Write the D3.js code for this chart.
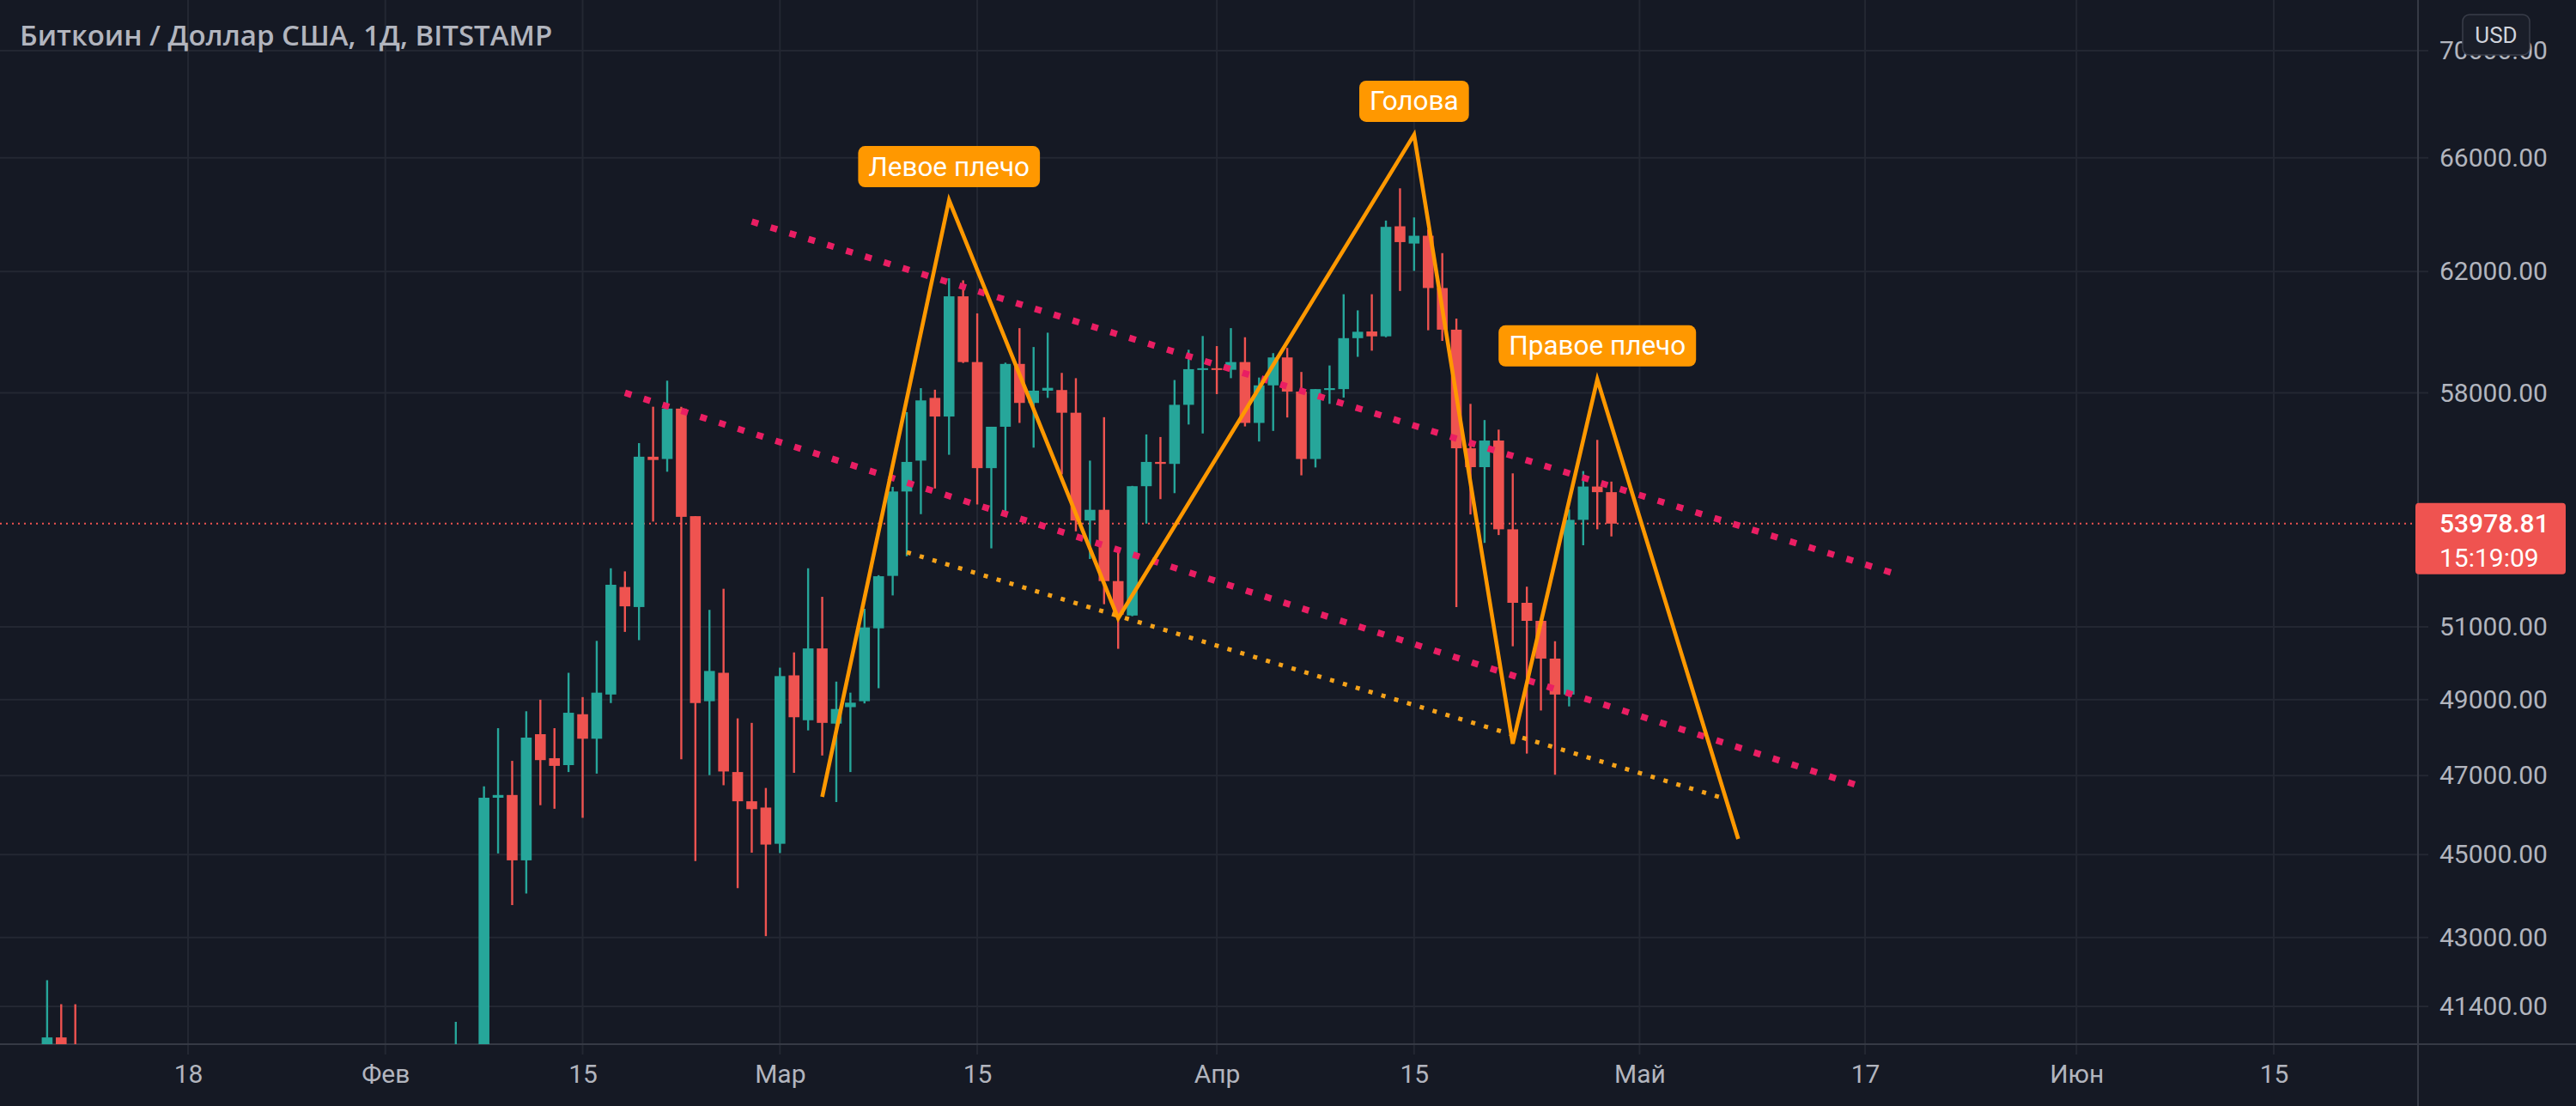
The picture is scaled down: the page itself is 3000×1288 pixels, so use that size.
<!DOCTYPE html>
<html><head><meta charset="utf-8">
<script src="https://cdn.jsdelivr.net/npm/d3@7"></script>
<style>
html,body{margin:0;padding:0;background:#151924;}
svg{display:block;}
</style></head><body>
<svg id="c" width="3000" height="1288"></svg>
<script>
// ---- candle data (BTC/USD daily, Bitstamp) ----
const dates = ["2021-01-08","2021-01-09","2021-01-10","2021-02-06","2021-02-08","2021-02-09","2021-02-10","2021-02-11","2021-02-12","2021-02-13","2021-02-14","2021-02-15","2021-02-16","2021-02-17","2021-02-18","2021-02-19","2021-02-20","2021-02-21","2021-02-22","2021-02-23","2021-02-24","2021-02-25","2021-02-26","2021-02-27","2021-02-28","2021-03-01","2021-03-02","2021-03-03","2021-03-04","2021-03-05","2021-03-06","2021-03-07","2021-03-08","2021-03-09","2021-03-10","2021-03-11","2021-03-12","2021-03-13","2021-03-14","2021-03-15","2021-03-16","2021-03-17","2021-03-18","2021-03-19","2021-03-20","2021-03-21","2021-03-22","2021-03-23","2021-03-24","2021-03-25","2021-03-26","2021-03-27","2021-03-28","2021-03-29","2021-03-30","2021-03-31","2021-04-01","2021-04-02","2021-04-03","2021-04-04","2021-04-05","2021-04-06","2021-04-07","2021-04-08","2021-04-09","2021-04-10","2021-04-11","2021-04-12","2021-04-13","2021-04-14","2021-04-15","2021-04-16","2021-04-17","2021-04-18","2021-04-19","2021-04-20","2021-04-21","2021-04-22","2021-04-23","2021-04-24","2021-04-25","2021-04-26","2021-04-27","2021-04-28","2021-04-29"];
const open  = [39400,40700,40250,38300,38900,46430,46500,44860,48080,47450,47270,48610,47960,49140,52130,51560,56000,55930,57500,54200,48960,49730,47090,46340,46180,45270,49660,48450,50400,48360,48800,48960,50960,52450,54940,55880,57840,57250,61160,58990,55650,56930,58930,57680,58070,58090,57370,54070,54390,52300,51320,55100,55840,55780,57620,58760,58790,58740,58990,57050,58240,59140,58040,55930,58090,58120,59770,59990,59830,63560,62960,63230,61440,60050,56260,55680,56500,53810,51680,51170,50120,49140,54090,55090,54920];
const high  = [42000,41450,41450,41050,46720,48240,47380,48690,49000,48240,49730,49070,50610,52670,52580,56420,57560,58390,57560,54200,51480,52080,48500,48380,46680,49870,50290,52670,51850,49490,49190,51510,52470,55080,57390,58150,58100,61770,61700,60590,56930,58970,60100,59480,59950,58640,58470,55880,57230,53280,55110,56690,56610,58410,59390,59840,59510,60100,59800,58490,59280,59450,58670,58120,58880,61230,60690,61230,63760,64900,63870,63450,62630,60420,57650,57140,56840,55490,52140,51180,50600,54400,55560,56520,55240];
const low   = [36500,38700,35500,38200,38000,45030,43770,44050,46240,46150,47090,45920,47050,48910,50860,50630,54040,55540,47420,44840,47010,46750,44180,45050,43030,45040,47070,48180,47520,46320,47090,48900,49310,51890,53020,54260,55030,56060,58960,54550,53250,54330,57050,56280,57840,55460,53750,52940,51640,50390,51300,53980,54710,54890,57000,56720,57960,58470,56940,56470,56800,57220,55430,55670,57650,57850,59160,59360,59800,61340,62020,60030,59680,51560,54250,53410,53640,50460,47570,48710,47020,48820,53340,53810,53600];
const close = [40700,40250,38200,39250,46430,46500,44860,47990,47400,47250,48650,47960,49190,52195,51580,56000,55900,57500,54180,48910,49780,47105,46340,46140,45250,49640,48530,50400,48380,48750,48920,50985,52440,54940,55840,57760,57250,61160,58990,55650,56930,58930,57680,58070,58160,57370,54070,54390,52300,51340,55100,55840,55780,57620,58760,58790,58740,58990,57050,58240,59140,58040,55930,58120,58150,59770,59980,59830,63540,63010,63230,61440,60050,56260,55680,56500,53810,51680,51170,50120,49140,54090,55090,54920,53978.81];

// ---- axes ----
const xTickDates  = ["2021-01-18","2021-02-01","2021-02-15","2021-03-01","2021-03-15","2021-04-01","2021-04-15","2021-05-01","2021-05-17","2021-06-01","2021-06-15"];
const xTickLabels = ["18","Фев","15","Мар","15","Апр","15","Май","17","Июн","15"];
const yTickValues = [41400,43000,45000,47000,49000,51000,58000,62000,66000,70000];

// ---- drawings ----
const hsDates  = ["2021-03-04","2021-03-13","2021-03-25","2021-04-15","2021-04-22","2021-04-28","2021-05-08"];
const hsPrices = [46450,64480,51240,66840,47830,58430,45390];
const hsLabelIdx = [1,3,5];
const hsLabels = ["Левое плечо","Голова","Правое плечо"];
const upperPinkDates = ["2021-02-27","2021-05-19"];
const upperPinkPrices = [63725,52529];
const lowerPinkDates = ["2021-02-18","2021-05-16T12:00:00Z"];
const lowerPinkPrices = [58003,46744];
const supportDates = ["2021-03-10","2021-05-07"];
const supportPrices = [53138,46412];

const title = "Биткоин / Доллар США, 1Д, BITSTAMP";
const lastPrice = close[close.length-1];
const countdown = "15:19:09";

// ---- layout ----
const plotR = 2816, plotB = 1216;
const UP="#26a69a", DOWN="#ef5350", BG="#151924", GRID="#232732", AXIS="#363a45", TXT="#b2b5be";
const FONT = "Roboto, 'Noto Sans', sans-serif";

const svg = d3.select("#c");
svg.append("rect").attr("width",3000).attr("height",1288).attr("fill",BG);

const x = d3.scaleUtc().domain([d3.isoParse("2021-01-18"), d3.isoParse("2021-06-15")]).range([219,2648]);
const y = d3.scaleLog().domain([41400,70000]).range([1172,59]);

// grid
svg.append("g").selectAll("line").data(xTickDates).join("line")
  .attr("x1",d=>x(d3.isoParse(d))).attr("x2",d=>x(d3.isoParse(d)))
  .attr("y1",0).attr("y2",plotB+12).attr("stroke",GRID).attr("stroke-width",2);
svg.append("g").selectAll("line").data(yTickValues).join("line")
  .attr("x1",0).attr("x2",plotR+12).attr("y1",d=>y(d)).attr("y2",d=>y(d))
  .attr("stroke",GRID).attr("stroke-width",2);

// axis lines
svg.append("line").attr("x1",plotR).attr("x2",plotR).attr("y1",0).attr("y2",1288).attr("stroke",AXIS).attr("stroke-width",2);
svg.append("line").attr("x1",0).attr("x2",3000).attr("y1",plotB).attr("y2",plotB).attr("stroke",AXIS).attr("stroke-width",2);

// x axis labels
const xa = svg.append("g").attr("transform",`translate(0,${plotB})`)
  .call(d3.axisBottom(x).tickValues(xTickDates.map(d=>d3.isoParse(d))).tickFormat((d,i)=>xTickLabels[i]).tickSize(0).tickPadding(24));
xa.select(".domain").remove();
xa.selectAll("text").attr("fill",TXT).style("font-size","30px").style("font-family",FONT);

// y axis labels
const ya = svg.append("g").attr("transform",`translate(${plotR},0)`)
  .call(d3.axisRight(y).tickValues(yTickValues).tickFormat(d=>d.toFixed(2)).tickSize(0).tickPadding(25));
ya.select(".domain").remove();
ya.selectAll("text").attr("fill",TXT).style("font-size","30px").style("font-family",FONT);

// clip
svg.append("clipPath").attr("id","plot").append("rect").attr("x",0).attr("y",0).attr("width",plotR).attr("height",plotB);
const plot = svg.append("g").attr("clip-path","url(#plot)");

// price line
plot.append("line").attr("x1",0).attr("x2",plotR).attr("y1",y(lastPrice)).attr("y2",y(lastPrice))
  .attr("stroke",DOWN).attr("stroke-width",2).attr("stroke-dasharray","2,5");

// candles
const data = dates.map((d,i)=>({t:d3.isoParse(d),o:open[i],h:high[i],l:low[i],c:close[i]}));
const bw = 12.6;
const cg = plot.append("g");
cg.selectAll("line").data(data).join("line")
  .attr("x1",d=>x(d.t)).attr("x2",d=>x(d.t)).attr("y1",d=>y(d.h)).attr("y2",d=>y(d.l))
  .attr("stroke",d=>d.c>=d.o?UP:DOWN).attr("stroke-width",2.4);
cg.selectAll("rect").data(data).join("rect")
  .attr("x",d=>x(d.t)-bw/2).attr("width",bw)
  .attr("y",d=>y(Math.max(d.o,d.c)))
  .attr("height",d=>Math.max(2,Math.abs(y(d.o)-y(d.c))))
  .attr("fill",d=>d.c>=d.o?UP:DOWN);

// trend lines
const lineGen = d3.line().x(d=>x(d3.isoParse(d[0]))).y(d=>y(d[1]));
plot.append("path").attr("d",lineGen(upperPinkDates.map((d,i)=>[d,upperPinkPrices[i]])))
  .attr("fill","none").attr("stroke","#e91e63").attr("stroke-width",7.5).attr("stroke-dasharray","8,15");
plot.append("path").attr("d",lineGen(lowerPinkDates.map((d,i)=>[d,lowerPinkPrices[i]])))
  .attr("fill","none").attr("stroke","#e91e63").attr("stroke-width",7.5).attr("stroke-dasharray","8,15");
plot.append("path").attr("d",lineGen(supportDates.map((d,i)=>[d,supportPrices[i]])))
  .attr("fill","none").attr("stroke","#f5a21a").attr("stroke-width",5).attr("stroke-dasharray","5,10.6");
plot.append("path").attr("d",lineGen(hsDates.map((d,i)=>[d,hsPrices[i]])))
  .attr("fill","none").attr("stroke","#ff9800").attr("stroke-width",4.6).attr("stroke-linejoin","miter");

// labels
hsLabelIdx.forEach((idx,k)=>{
  const px = x(d3.isoParse(hsDates[idx])), py = y(hsPrices[idx]);
  const g = plot.append("g");
  const t = g.append("text").text(hsLabels[k]).attr("x",px).attr("y",py-15-24)
    .attr("text-anchor","middle").attr("dominant-baseline","central")
    .attr("fill","#ffffff").style("font-size","31.5px").style("font-family",FONT);
  const w = t.node().getComputedTextLength()+24;
  g.insert("rect","text").attr("x",px-w/2).attr("y",py-15-48).attr("width",w).attr("height",48)
    .attr("rx",8).attr("fill","#ff9800");
});

// price label on axis
svg.append("line").attr("x1",plotR).attr("x2",plotR+12).attr("y1",y(lastPrice)).attr("y2",y(lastPrice)).attr("stroke",DOWN).attr("stroke-width",2);
svg.append("rect").attr("x",plotR-3).attr("y",y(lastPrice)-24).attr("width",175).attr("height",83).attr("rx",4).attr("fill","#ef5350");
svg.append("text").attr("x",plotR+25).attr("y",y(lastPrice)).attr("dominant-baseline","central")
  .attr("fill","#fff").style("font-size","30px").style("font-weight","500").style("font-family",FONT).text(lastPrice.toFixed(2));
svg.append("text").attr("x",plotR+25).attr("y",y(lastPrice)+40).attr("dominant-baseline","central")
  .attr("fill","#fff").style("font-size","30px").style("font-family",FONT).text(countdown);

// USD badge
svg.append("rect").attr("x",2868).attr("y",17).attr("width",78).attr("height",47).attr("rx",8)
  .attr("fill","#1a1e29").attr("stroke","#3a3e4a").attr("stroke-width",1.5);
svg.append("text").attr("x",2907).attr("y",41).attr("text-anchor","middle").attr("dominant-baseline","central")
  .attr("fill","#d1d4dc").style("font-size","26px").style("font-family",FONT).text("USD");

// title
svg.append("text").attr("x",23).attr("y",53).attr("fill",TXT)
  .style("font-size","33px").style("font-weight","600").style("font-family","'Open Sans', sans-serif").text(title);
</script>
</body></html>
